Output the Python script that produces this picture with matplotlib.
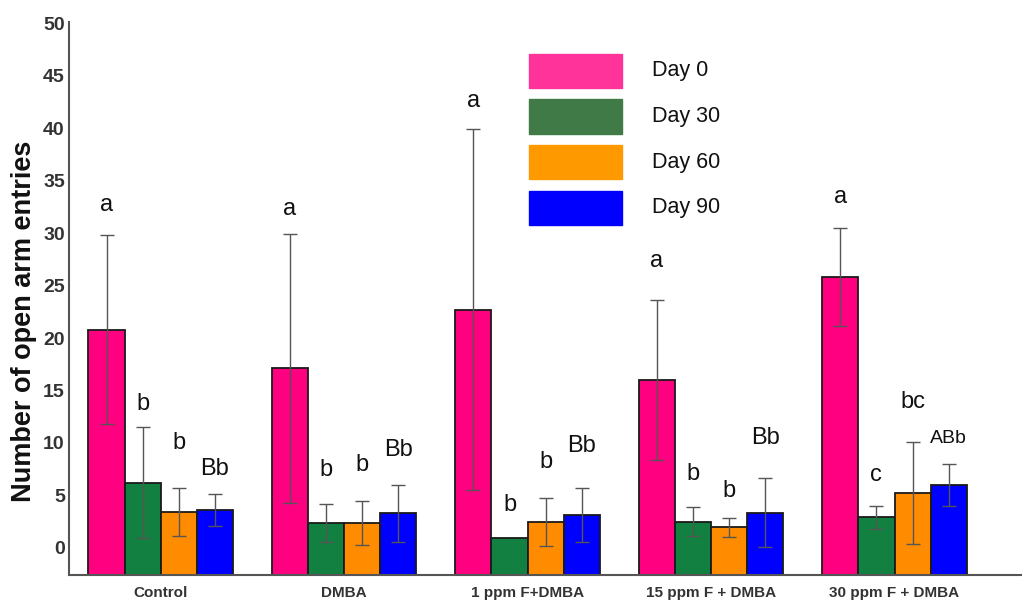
import matplotlib.pyplot as plt
import numpy as np

plt.rcParams['font.family'] = ['Liberation Sans', 'DejaVu Sans']

groups = ['Control', 'DMBA', '1 ppm F+DMBA', '15 ppm F + DMBA', '30 ppm F + DMBA']
days = ['Day 0', 'Day 30', 'Day 60', 'Day 90']

# mean number of open arm entries per day, one list per group
means = [
    [20.8, 6.2, 3.45, 3.6],
    [17.1, 2.4, 2.4, 3.3],
    [22.7, 0.9, 2.45, 3.15],
    [16.0, 2.5, 1.95, 3.35],
    [25.8, 2.9, 5.25, 6.0],
]
errors = [
    [9.0, 5.3, 2.3, 1.55],
    [12.8, 1.8, 2.1, 2.7],
    [17.2, 0.0, 2.3, 2.6],
    [7.6, 1.35, 0.9, 3.3],
    [4.65, 1.1, 4.85, 2.0],
]
letters = [
    ['a', 'b', 'b', 'Bb'],
    ['a', 'b', 'b', 'Bb'],
    ['a', 'b', 'b', 'Bb'],
    ['a', 'b', 'b', 'Bb'],
    ['a', 'c', 'bc', 'ABb'],
]
# height of each letter above the zero line
letter_y = [
    [32.7, 13.7, 10.0, 7.5],
    [32.3, 7.4, 7.9, 9.3],
    [42.6, 4.1, 8.2, 9.7],
    [27.3, 7.0, 5.4, 10.5],
    [33.4, 6.9, 13.9, 10.4],
]

bar_colors = ['#ff0080', '#128040', '#ff8c00', '#0000ff']
legend_colors = ['#ff3399', '#3f7a47', '#ff9900', '#0000ff']

fig = plt.figure(figsize=(10.22, 6.01), dpi=100)
ax = fig.add_axes([0.0675, 0.043, 0.9325, 0.92])

ymin, ymax = -2.6, 50.1
width = 0.197
x = np.arange(len(groups))
offsets = (np.arange(len(days)) - 1.5) * width

means = np.array(means)
errors = np.array(errors)

for j in range(len(days)):
    ax.bar(x + offsets[j], means[:, j] - ymin, width, bottom=ymin,
           color=bar_colors[j], edgecolor='#1a1a1a', linewidth=1.3, zorder=2)
    err = errors[:, j]
    has = err > 0
    ax.errorbar(x[has] + offsets[j], means[has, j], yerr=err[has], fmt='none',
                ecolor='#555555', elinewidth=1.0, capsize=5, capthick=1.0, zorder=3)

for i in range(len(groups)):
    for j in range(len(days)):
        lab = letters[i][j]
        fs = 14 if lab == 'ABb' else 17
        ax.text(x[i] + offsets[j], letter_y[i][j], lab, ha='center', va='center',
                fontsize=fs, color='#111111')

# legend drawn as plain boxes in axes coordinates
for k, day in enumerate(days):
    top = 0.943 - k * 0.0825
    ax.add_patch(plt.Rectangle((0.4825, top - 0.062), 0.098, 0.062,
                               transform=ax.transAxes, color=legend_colors[k],
                               clip_on=False, zorder=4))
    ax.text(0.612, top - 0.031, day, transform=ax.transAxes, fontsize=15.5,
            va='center', ha='left', color='#111111')

ax.set_xlim(-0.5, 4.695)
ax.set_ylim(ymin, ymax)
ax.set_yticks(np.arange(0, 51, 5))
ax.set_yticklabels([str(v) for v in range(0, 51, 5)], fontsize=14,
                   fontweight='bold', color='#333333')
ax.tick_params(axis='y', length=0, pad=3)
ax.set_yticks([50], minor=True)
ax.tick_params(axis='y', which='minor', length=4, width=1.2, color='#555555')
ax.set_xticks(x)
ax.set_xticklabels(groups, fontsize=11, fontweight='bold', color='#333333')
ax.tick_params(axis='x', length=0, pad=8)

ax.set_ylabel('Number of open arm entries', fontsize=19.5, fontweight='bold',
              color='#111111')
ax.yaxis.set_label_coords(-0.034, 0.46)

for s in ['top', 'right']:
    ax.spines[s].set_visible(False)
for s in ['left', 'bottom']:
    ax.spines[s].set_color('#555555')
    ax.spines[s].set_linewidth(1.5)

fig.savefig('out.png', dpi=100)
